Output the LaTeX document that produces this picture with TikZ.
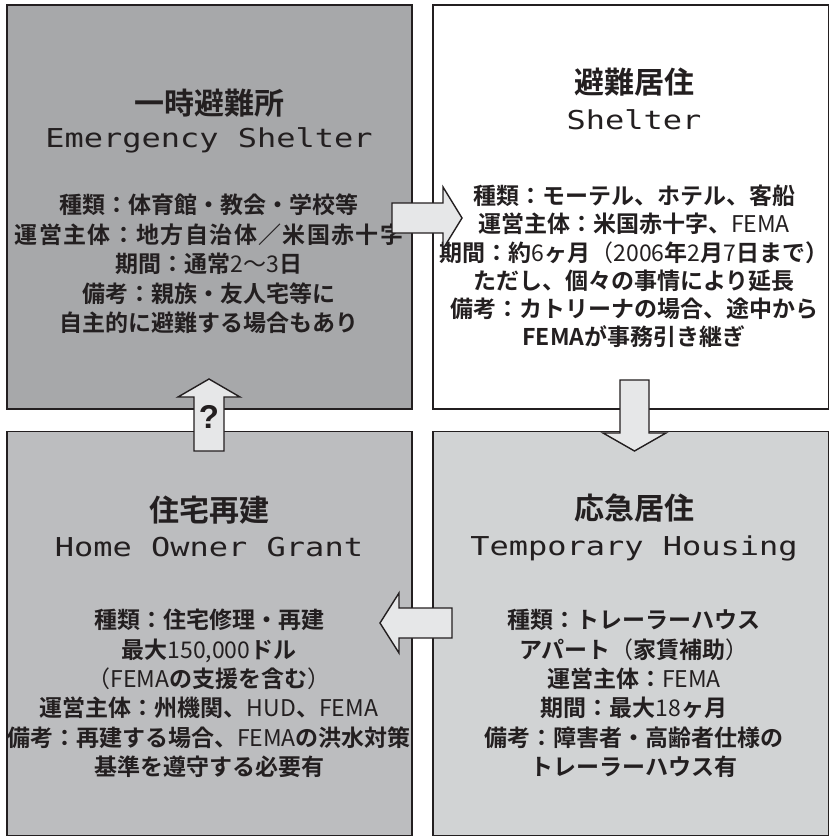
\documentclass[tikz,border=0pt]{standalone}
\usepackage{fontspec}
\newfontfamily\jp{Noto Sans CJK JP}[BoldFont={Noto Sans CJK JP Bold}]
\newfontfamily\monof{DejaVu Sans Mono}[FakeStretch=1.23]
\newfontfamily\qfont{Liberation Sans}
\newcommand\Rg[1]{{\mdseries #1}}
\definecolor{cA}{HTML}{A7A8AA}
\definecolor{cB}{HTML}{FFFFFF}
\definecolor{cC}{HTML}{BCBDBF}
\definecolor{cD}{HTML}{D1D3D4}
\definecolor{cArr}{HTML}{E6E7E8}
\definecolor{ink}{HTML}{231F20}
\tikzset{
  box/.style={draw=ink, line width=1.6pt, minimum width=405pt, minimum height=404pt, inner sep=0pt},
  blockarrow/.style={draw=ink, line width=1.4pt, fill=cArr, line join=miter},
  title/.style={anchor=base, text=ink, font=\jp\bfseries\fontsize{30}{30}\selectfont, inner sep=0pt},
  eng/.style={anchor=base, text=ink, font=\monof\fontsize{26}{26}\selectfont, inner sep=0pt},
  body/.style={anchor=base, text=ink, align=center, inner sep=0pt},
}
\begin{document}
\begin{tikzpicture}[x=1pt,y=-1pt]
\useasboundingbox (0,0) rectangle (828,837);
% boxes
\node[box, fill=cA] (es) at (209.5,207) {};
\node[box, fill=cB, minimum width=396pt] (sh) at (631,207) {};
\node[box, fill=cC] (ho) at (209.5,633.5) {};
\node[box, fill=cD, minimum width=396pt] (th) at (631,633.5) {};

% top-left
\node[title] (es-t) at (209,114.4) {一時避難所};
\node[eng] (es-e) at (209,148) {Emergency Shelter};
\node[body, font=\jp\bfseries\fontsize{23}{29.5}\selectfont] (es-b) at (209,331.7) {%
種類：体育館・教会・学校等\\
{\addfontfeature{LetterSpace=6}運営主体：地方自治体／米国赤十字}\\
期間：通常\Rg{2〜3}日\\
備考：親族・友人宅等に\\
自主的に避難する場合もあり};

% top-right
\node[title] (sh-t) at (634,93.4) {避難居住};
\node[eng] (sh-e) at (634,130) {Shelter};
\node[body, font=\jp\bfseries\fontsize{23}{28.2}\selectfont] (sh-b) at (634,345.7) {%
種類：モーテル、ホテル、客船\\
運営主体：米国赤十字、\Rg{FEMA}\\
期間：約\Rg{6}ヶ月\Rg{（2006}年\Rg{2}月\Rg{7}日まで）\\
ただし、個々の事情により延長\\
備考：カトリーナの場合、途中から\\
FEMAが事務引き継ぎ};

% bottom-left
\node[title] (ho-t) at (209,521.4) {住宅再建};
\node[eng] (ho-e) at (209,556) {Home Owner Grant};
\node[body, font=\jp\bfseries\fontsize{23}{29.4}\selectfont] (ho-b) at (209,775.7) {%
種類：住宅修理・再建\\
最大\Rg{150,000}ドル\\
\Rg{（FEMA}の支援を含む\Rg{）}\\
運営主体：州機関、\Rg{HUD}、\Rg{FEMA}\\
備考：再建する場合、\Rg{FEMA}の洪水対策\\
基準を遵守する必要有};

% bottom-right
\node[title] (th-t) at (634,519.4) {応急居住};
\node[eng] (th-e) at (634,555) {Temporary Housing};
\node[body, font=\jp\bfseries\fontsize{23}{29.4}\selectfont] (th-b) at (634,775.7) {%
種類：トレーラーハウス\\
アパート\Rg{（}家賃補助\Rg{）}\\
運営主体：\Rg{FEMA}\\
期間：最大\Rg{18}ヶ月\\
備考：障害者・高齢者仕様の\\
トレーラーハウス有};

% block arrows (drawn over boxes and text)
\draw[blockarrow] (392,203) -- (443,203) -- (443,187) -- (462,218) -- (443,249) -- (443,233) -- (392,233) -- cycle;
\draw[blockarrow] (620,380) -- (620,433) -- (603,433) -- (634.5,451) -- (666,433) -- (649,433) -- (649,380) -- cycle;
\draw[blockarrow] (452,608) -- (399,608) -- (399,593) -- (380,623) -- (399,653) -- (399,638) -- (452,638) -- cycle;
\draw[blockarrow] (194,451) -- (194,397) -- (178,397) -- (209,379) -- (240,397) -- (224,397) -- (224,451) -- cycle;
\node[text=ink, font=\qfont\bfseries\fontsize{33}{33}\selectfont, inner sep=0pt] (q) at (209,417) {?};
\end{tikzpicture}
\end{document}
